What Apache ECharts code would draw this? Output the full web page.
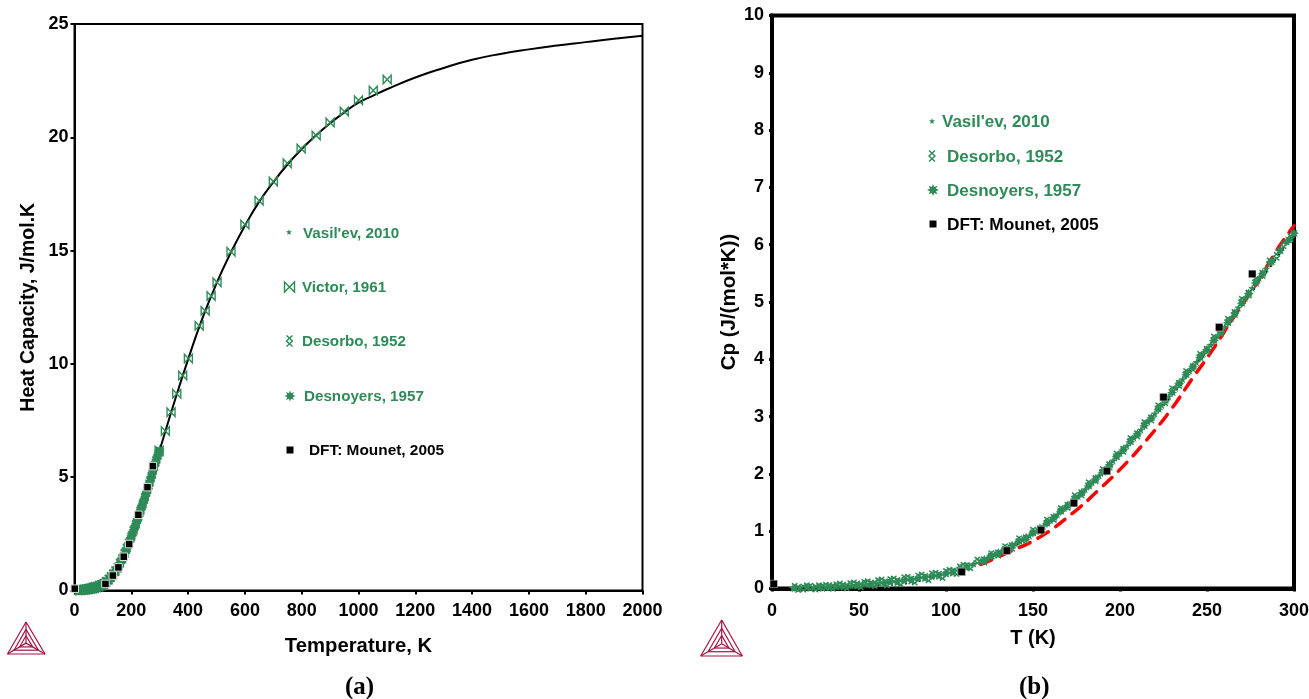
<!DOCTYPE html>
<html><head><meta charset="utf-8">
<style>html,body{margin:0;padding:0;background:#fff}#c{width:1309px;height:699px}</style>
<script src="https://cdn.jsdelivr.net/npm/echarts@6/dist/echarts.min.js"></script>
</head><body><div id="c"></div>
<script>
const curveHigh=[[0,0],[50,0.04],[100,0.26],[150,0.96],[200,2.36],[250,4.15],[300,6.2],[350,8.25],[400,10.2],[450,12.0],[500,13.55],[550,14.9],[600,16.1],[650,17.15],[700,18.02],[750,18.8],[800,19.48],[850,20.08],[900,20.62],[950,21.1],[1000,21.53],[1050,21.83],[1100,22.12],[1200,22.64],[1300,23.06],[1400,23.42],[1500,23.68],[1600,23.88],[1700,24.05],[1800,24.2],[1900,24.35],[2000,24.48]];
const redDashed=[[120,0.42],[135,0.62],[154,0.9],[173,1.32],[187,1.7],[202,2.14],[215,2.58],[229,3.11],[241,3.64],[254,4.2],[265,4.72],[278,5.3],[290,5.9],[298,6.25],[300,6.33]];
const dftMounet=[[1,0.08],[109,0.29],[135,0.66],[154.6,1.02],[173.5,1.49],[192.5,2.05],[225,3.34],[257,4.56],[276,5.49]];
const victor1961=[[298,6.17],[320,7.04],[340,7.87],[360,8.68],[381,9.49],[401,10.24],[439,11.68],[460,12.34],[481,13.0],[502,13.6],[551,14.95],[600,16.15],[650,17.2],[700,18.05],[749,18.85],[798,19.5],[851,20.08],[900,20.65],[950,21.14],[1000,21.63],[1052,22.07],[1101,22.55]];
const vasilev2010=[[12,.01],[16,.01],[20,.02],[24,.02],[28,.03],[32,.03],[36,.04],[40,.05],[44,.05],[48,.06],[52,.07],[56,.08],[60,.09],[64,.1],[68,.11],[72,.12],[76,.14],[80,.16],[84,.18],[88,.2],[92,.21],[96,.23],[100,.26],[104,.3],[108,.34],[112,.39],[116,.43],[120,.48],[124,.53],[128,.59],[132,.65],[136,.71],[140,.78],[144,.85],[148,.92],[152,1.0],[156,1.09],[160,1.19],[164,1.29],[168,1.4],[172,1.5],[176,1.61],[180,1.73],[184,1.85],[188,1.97],[192,2.09],[196,2.23],[200,2.36],[204,2.49],[208,2.63],[212,2.77],[216,2.91],[220,3.05],[224,3.2],[228,3.35],[232,3.5],[236,3.65],[240,3.8],[244,3.95],[248,4.1],[252,4.25],[256,4.4],[260,4.56],[264,4.72],[268,4.9],[272,5.07],[276,5.24],[280,5.42],[284,5.58],[288,5.74],[292,5.9],[296,6.05],[300,6.2]];
const desorbo1952=[[13,.02],[15,.0],[18,.01],[20,.03],[22,.02],[25,.01],[27,.03],[29,.02],[31,.04],[33,.03],[35,.02],[37,.05],[39,.06],[41,.04],[43,.03],[45,.07],[47,.08],[49,.06],[51,.05],[53,.09],[55,.1],[57,.08],[59,.07],[61,.12],[63,.13],[65,.1],[66,.08],[68,.14],[70,.15],[72,.12],[74,.1],[76,.17],[78,.18],[80,.15],[82,.13],[84,.2],[86,.22],[88,.19],[90,.17],[92,.24],[94,.25],[96,.23],[98,.21],[100,.28],[102,.3],[104,.29],[106,.28],[108,.36],[110,.39],[112,.38],[114,.38],[118,.48],[122,.48],[126,.59],[130,.6],[134,.71],[138,.72],[142,.85],[146,.86],[150,1.0],[154,1.02],[158,1.18],[162,1.22],[166,1.38],[170,1.43],[174,1.6],[178,1.65],[182,1.83],[186,1.9],[190,2.06],[194,2.14],[198,2.33],[202,2.41],[206,2.6],[210,2.68],[214,2.88],[218,2.96],[222,3.17],[226,3.26],[230,3.47],[234,3.56],[238,3.77],[242,3.85],[246,4.07],[250,4.16],[254,4.37],[258,4.47],[262,4.68],[266,4.8],[270,5.03],[274,5.14],[278,5.38],[282,5.48],[286,5.7],[290,5.8],[294,6.0],[298,6.12]];
const desnoyers1957=[[122,.5],[126,.57],[130,.62],[134,.69],[138,.75],[142,.82],[146,.89],[150,.97],[154,1.05],[158,1.14],[162,1.24],[166,1.35],[170,1.45],[174,1.56],[178,1.67],[182,1.79],[186,1.91],[190,2.03],[194,2.16],[198,2.3],[202,2.43],[206,2.56],[210,2.7],[214,2.84],[218,2.98],[222,3.13],[226,3.28],[230,3.42],[234,3.58],[238,3.73],[242,3.88],[246,4.03],[250,4.17],[254,4.33],[258,4.48],[262,4.64],[266,4.81],[270,4.98],[274,5.15],[278,5.33],[282,5.5],[287,5.7],[292,5.9],[297,6.08],[300,6.2]];
const GREEN='#2e8b57';
const symVictor='path://M0 0L10 12L10 0L0 12Z';
const symDesorbo='path://M1 0L9 10L1 20M9 0L1 10L9 20';
const symDesnoyers='path://M10 0L12.1 4.9L17.1 2.9L15.1 7.9L20 10L15.1 12.1L17.1 17.1L12.1 15.1L10 20L7.9 15.1L2.9 17.1L4.9 12.1L0 10L4.9 7.9L2.9 2.9L7.9 4.9Z';
const symVasilev='path://M5 0L6.2 3.4L10 3.6L7 5.9L8.1 9.5L5 7.4L1.9 9.5L3 5.9L0 3.6L3.8 3.4Z';
const symRect='path://M0 0L10 0L10 10L0 10Z';

const FONT='"Liberation Sans",Arial,sans-serif';
function axis(idx,min,max,interval,name,gap,lw,tickW,size,nameSize,margin){
  return {gridIndex:idx,type:'value',min,max,interval,name,nameLocation:'middle',nameGap:gap,
    nameTextStyle:{fontFamily:FONT,fontWeight:'bold',fontSize:nameSize,color:'#000'},
    axisLine:{show:true,onZero:false,lineStyle:{color:'#000',width:lw}},
    axisTick:{show:true,length:tickW,lineStyle:{color:'#000',width:lw===2?2:3}},
    axisLabel:{fontFamily:FONT,fontWeight:'bold',fontSize:size,color:'#000',margin,hideOverlap:false,showMinLabel:true,showMaxLabel:true,formatter:v=>String(v)},
    splitLine:{show:false}};
}
function mk(name,data,xi,symbol,size,filled,z,bw){
  return {name,type:'scatter',xAxisIndex:xi,yAxisIndex:xi,data,symbol,symbolSize:size,z,silent:true,
    itemStyle:filled?{color:GREEN,borderWidth:0,opacity:1}:{color:'rgba(0,0,0,0)',borderColor:GREEN,borderWidth:bw||1,opacity:1}};
}
function dft(xi){return {name:'DFT: Mounet, 2005',type:'scatter',xAxisIndex:xi,yAxisIndex:xi,data:dftMounet,symbol:'rect',symbolSize:7.5,z:9,silent:true,itemStyle:{color:'#000',borderColor:'#ddd',borderWidth:xi===0?1:0.5,opacity:1}};}

const series=[
 {name:'Calculated',type:'line',xAxisIndex:0,yAxisIndex:0,data:curveHigh,smooth:true,showSymbol:false,z:3,silent:true,lineStyle:{color:'#000',width:2}},
 mk("Vasil'ev, 2010",vasilev2010,0,symVasilev,10,true,4),
 mk('Desorbo, 1952',desorbo1952,0,symDesorbo,[7,9],false,5,1.5),
 mk('Desnoyers, 1957',desnoyers1957,0,symDesnoyers,10,true,6),
 mk('Victor, 1961',victor1961,0,symVictor,[8,8.5],false,7,1.4),
 dft(0),
 {name:'Calculated dots',type:'line',xAxisIndex:1,yAxisIndex:1,data:curveHigh.slice(0,7),smooth:true,showSymbol:false,z:2,silent:true,lineStyle:{color:'#000',width:2,type:[2,5]}},
 {name:'Red dashed',type:'line',xAxisIndex:1,yAxisIndex:1,data:redDashed,smooth:true,showSymbol:false,z:3,silent:true,lineStyle:{color:'#f00',width:3.5,type:[12,9],cap:'round'}},
 mk("Vasil'ev, 2010",vasilev2010,1,symVasilev,8,true,4),
 mk('Desorbo, 1952',desorbo1952,1,symDesorbo,[5.5,8],false,5,1.4),
 mk('Desnoyers, 1957',desnoyers1957,1,symDesnoyers,10,true,6),
 dft(1)
];

function keyPath(d,cx,cy,w,h,filled,color){
  const subs=[];
  d.replace('path://','').match(/[MLZ][^MLZ]*/g).forEach(tok=>{
    const c=tok[0],n=tok.slice(1).trim().split(/\s+/).map(Number);
    if(c==='M')subs.push({pts:[[n[0],n[1]]],closed:false});
    else if(c==='L')subs[subs.length-1].pts.push([n[0],n[1]]);
    else subs[subs.length-1].closed=true;
  });
  const all=subs.flatMap(s=>s.pts),xs=all.map(a=>a[0]),ys=all.map(a=>a[1]);
  const x0=Math.min(...xs),x1=Math.max(...xs),y0=Math.min(...ys),y1=Math.max(...ys);
  return subs.map(s=>({type:s.closed?'polygon':'polyline',silent:true,z:20,
    shape:{points:s.pts.map(q=>[cx-w/2+(q[0]-x0)/(x1-x0)*w,cy-h/2+(q[1]-y0)/(y1-y0)*h])},
    style:filled?{fill:color||GREEN}:{fill:null,stroke:GREEN,lineWidth:1.4}}));
}
function txt(t,x,y,size,color,family){
  return {type:'text',x,y,silent:true,z:20,style:{text:t,fill:color,font:'bold '+size+'px '+(family||FONT),verticalAlign:'middle'}};
}
function logo(ax,ay,blx,brx,by){
  const h=by-ay, cy=ay+h*0.66;
  const L=(x1,y1,x2,y2)=>({type:'line',silent:true,z:20,shape:{x1,y1,x2,y2},style:{stroke:'#a6123f',lineWidth:1.2}});
  const out=[L(ax,ay,blx,by),L(ax,ay,brx,by),L(blx,by,brx,by),L(ax,ay,ax,cy),L(blx,by,ax,cy),L(brx,by,ax,cy)];
  [0.35,0.65].forEach(f=>{
    const a=[ax,ay+(cy-ay)*f], b=[blx+(ax-blx)*f,by+(cy-by)*f], c=[brx+(ax-brx)*f,by+(cy-by)*f];
    out.push(L(a[0],a[1],b[0],b[1]),L(a[0],a[1],c[0],c[1]),L(b[0],b[1],c[0],c[1]));
  });
  return out;
}
const graphic=[
 ...keyPath(symVasilev,289,232,6,6,true),txt("Vasil'ev, 2010",303,233.5,15.2,GREEN),
 ...keyPath(symVictor,289.5,287,10,10,false),txt('Victor, 1961',302,287.5,15.2,GREEN),
 ...keyPath(symDesorbo,289.5,341,6,11,false),txt('Desorbo, 1952',302,342,15.2,GREEN),
 ...keyPath(symDesnoyers,290,396,11,11,true),txt('Desnoyers, 1957',304,396.5,15.2,GREEN),
 ...keyPath(symRect,290,450,7,7,true,'#000'),txt('DFT: Mounet, 2005',309,451,15.4,'#000'),
 ...keyPath(symVasilev,932,121,6,6,true),txt("Vasil'ev, 2010",942,122,17,GREEN),
 ...keyPath(symDesorbo,932,156,6,11,false),txt('Desorbo, 1952',947,157,17,GREEN),
 ...keyPath(symDesnoyers,933,190,12,12,true),txt('Desnoyers, 1957',947,191,17,GREEN),
 ...keyPath(symRect,933,224,7,7,true,'#000'),txt('DFT: Mounet, 2005',947,225.5,17.3,'#000'),
 txt('(a)',345,688,25,'#000','"Liberation Serif","Times New Roman",serif'),
 txt('(b)',1019,688,25,'#000','"Liberation Serif","Times New Roman",serif'),
 ...logo(26,622,7.5,45,654),
 ...logo(721.7,620,700.7,742.3,656)
];

const chart=echarts.init(document.getElementById('c'),null,{renderer:'canvas'});
chart.setOption({
 animation:false,backgroundColor:'#fff',
 grid:[
  {left:74.5,top:24,width:568,height:566.5,show:true,borderColor:'#000',borderWidth:2,backgroundColor:'transparent',containLabel:false,outerBoundsMode:'none'},
  {left:772,top:15.5,width:522,height:573,show:true,borderColor:'#000',borderWidth:4,backgroundColor:'transparent',containLabel:false,outerBoundsMode:'none'}
 ],
 xAxis:[axis(0,0,2000,200,'Temperature, K',46,2,4,18,20.3,12),axis(1,0,300,50,'T (K)',40,4,3,18,20,14)],
 yAxis:[axis(0,0,25,5,'Heat Capacity, J/mol.K',36,2,4,18,19.5,6),axis(1,0,10,1,'Cp (J/(mol*K))',32,4,3,18,20.5,8)],
 series,graphic
});
</script></body></html>
